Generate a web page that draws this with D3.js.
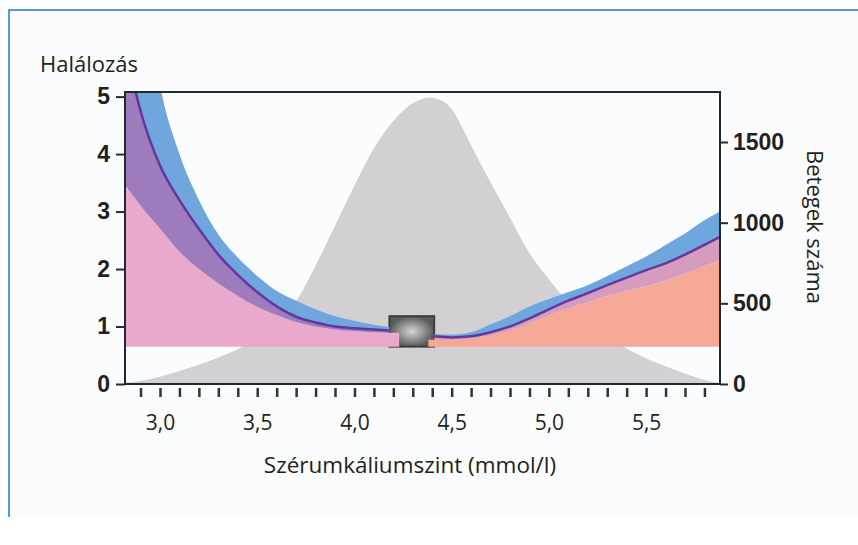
<!DOCTYPE html>
<html>
<head>
<meta charset="utf-8">
<script src="https://cdn.jsdelivr.net/npm/d3@7"></script>
<style>
  body { margin: 0; background: #fff; }
  text { font-family: "Open Sans", sans-serif; fill: #231f20; }
</style>
</head>
<body>
<script>
// szérumkálium (mmol/l) -> betegek száma
const histK = [2.82, 2.9, 3.0, 3.1, 3.2, 3.3, 3.4, 3.5, 3.6, 3.7, 3.8, 3.9, 4.0, 4.1, 4.2, 4.3, 4.38, 4.45, 4.5, 4.55, 4.6, 4.7, 4.8, 4.9, 5.0, 5.1, 5.2, 5.3, 5.4, 5.5, 5.6, 5.7, 5.8, 5.88];
const histN = [5, 20, 45, 80, 120, 165, 215, 285, 385, 515, 735, 980, 1230, 1460, 1630, 1740, 1775, 1755, 1705, 1600, 1480, 1250, 1030, 810, 650, 505, 390, 300, 220, 160, 110, 65, 25, 5];

// alacsony kálium oldal (bal)
const kLeft = [2.82, 2.9, 3.0, 3.1, 3.2, 3.3, 3.4, 3.5, 3.6, 3.7, 3.8, 3.9, 4.0, 4.1, 4.18];
const lineLeft = [5.9, 4.75, 3.8, 3.2, 2.7, 2.25, 1.9, 1.6, 1.35, 1.17, 1.07, 1.0, 0.97, 0.95, 0.93];
const upperLeft = [9, 7.5, 5.2, 4.0, 3.2, 2.6, 2.2, 1.88, 1.62, 1.45, 1.3, 1.18, 1.1, 1.03, 0.99];
const lowerLeft = [3.46, 3.1, 2.7, 2.3, 2.0, 1.75, 1.53, 1.34, 1.2, 1.08, 1.0, 0.95, 0.92, 0.9, 0.89];
const kPink = [2.82, 2.9, 3.0, 3.1, 3.2, 3.3, 3.4, 3.5, 3.6, 3.7, 3.8, 3.9, 4.0, 4.1, 4.18, 4.23];
const pinkTop = [3.46, 3.1, 2.7, 2.3, 2.0, 1.75, 1.53, 1.34, 1.2, 1.08, 1.0, 0.95, 0.92, 0.9, 0.89, 0.89];

// magas kálium oldal (jobb)
const kRight = [4.41, 4.5, 4.6, 4.7, 4.8, 4.9, 5.0, 5.1, 5.2, 5.3, 5.4, 5.5, 5.6, 5.7, 5.8, 5.88];
const lineRight = [0.83, 0.81, 0.83, 0.9, 1.0, 1.14, 1.3, 1.45, 1.58, 1.72, 1.85, 1.98, 2.1, 2.25, 2.42, 2.56];
const upperRight = [0.87, 0.86, 0.9, 1.04, 1.18, 1.35, 1.48, 1.6, 1.72, 1.88, 2.05, 2.22, 2.42, 2.62, 2.85, 3.0];
const lowerRight = [0.77, 0.77, 0.79, 0.85, 0.93, 1.06, 1.2, 1.32, 1.42, 1.53, 1.62, 1.7, 1.8, 1.92, 2.05, 2.16];
const kOrange = [4.38, 4.41, 4.5, 4.6, 4.7, 4.8, 4.9, 5.0, 5.1, 5.2, 5.3, 5.4, 5.5, 5.6, 5.7, 5.8, 5.88];
const orangeTop = [0.77, 0.77, 0.77, 0.79, 0.85, 0.93, 1.06, 1.2, 1.32, 1.42, 1.53, 1.62, 1.7, 1.8, 1.92, 2.05, 2.16];

const baseline = 0.65;
const refK = [4.18, 4.41];
const refMort = [0.65, 1.18];

const leftTicks = [0, 1, 2, 3, 4, 5];
const rightTicks = [0, 500, 1000, 1500];
const xMinor = [2.9, 3.0, 3.1, 3.2, 3.3, 3.4, 3.5, 3.6, 3.7, 3.8, 3.9, 4.0, 4.1, 4.2, 4.3, 4.4, 4.5, 4.6, 4.7, 4.8, 4.9, 5.0, 5.1, 5.2, 5.3, 5.4, 5.5, 5.6, 5.7, 5.8];
const xLabels = [3.0, 3.5, 4.0, 4.5, 5.0, 5.5];

const width = 858;
const height = 545;
const margin = { top: 92, right: 138, bottom: 161, left: 125 };

const svg = d3.select("body").append("svg")
  .attr("width", width)
  .attr("height", height);

// halvány háttér + kék szegély (bal, felső)
svg.append("rect")
  .attr("x", 9).attr("y", 10)
  .attr("width", width - 9).attr("height", 507)
  .attr("fill", "#fbfcfe");
svg.append("path")
  .attr("d", `M9,517V10H${width}`)
  .attr("fill", "none")
  .attr("stroke", "#1b7fc6")
  .attr("stroke-width", 1.5);

const x = d3.scaleLinear()
  .domain([2.82, 5.88])
  .range([margin.left, width - margin.right]);

const yL = d3.scaleLinear()
  .domain([0, 5.08])
  .range([height - margin.bottom, margin.top]);

const yR = d3.scaleLinear()
  .domain([0, 1810])
  .range([height - margin.bottom, margin.top]);

svg.append("clipPath").attr("id", "plot")
  .append("rect")
  .attr("x", x(2.82)).attr("y", yL(5.08))
  .attr("width", x(5.88) - x(2.82)).attr("height", yL(0) - yL(5.08));

const defs = svg.append("defs");
const grad = defs.append("radialGradient").attr("id", "box");
grad.append("stop").attr("offset", "0%").attr("stop-color", "#d6d6d6");
grad.append("stop").attr("offset", "100%").attr("stop-color", "#5a5a5a");

const g = svg.append("g").attr("clip-path", "url(#plot)");

// betegek eloszlása
g.append("path")
  .datum(histK.map((k, i) => [k, histN[i]]))
  .attr("fill", "#d2d0d3")
  .attr("d", d3.area()
    .curve(d3.curveCatmullRom.alpha(0.5))
    .x(d => x(d[0]))
    .y0(yR(0))
    .y1(d => yR(d[1])));

// referencia tartomány
g.append("rect")
  .attr("x", x(refK[0])).attr("y", yL(refMort[1]))
  .attr("width", x(refK[1]) - x(refK[0]))
  .attr("height", yL(refMort[0]) - yL(refMort[1]))
  .attr("fill", "url(#box)")
  .attr("stroke", "#3c3c3c")
  .attr("stroke-width", 2);

function band(ks, lo, hi, color) {
  g.append("path")
    .datum(ks.map((k, i) => [k, lo[i], hi[i]]))
    .attr("fill", color)
    .attr("d", d3.area()
      .curve(d3.curveMonotoneX)
      .x(d => x(d[0]))
      .y0(d => yL(d[1]))
      .y1(d => yL(d[2])));
}

band(kPink, kPink.map(() => baseline), pinkTop, "#e8a9cd");
band(kOrange, kOrange.map(() => baseline), orangeTop, "#f5a896");
band(kLeft, lowerLeft, lineLeft, "#9d7bbd");
band(kRight, lowerRight, lineRight, "#d69cbd");
band(kLeft, lineLeft, upperLeft, "#6ea6dd");
band(kRight, lineRight, upperRight, "#6ea6dd");

const line = d3.line()
  .curve(d3.curveMonotoneX)
  .x(d => x(d[0]))
  .y(d => yL(d[1]));

[[kLeft, lineLeft], [kRight, lineRight]].forEach(([ks, vs]) => {
  g.append("path")
    .datum(ks.map((k, i) => [k, vs[i]]))
    .attr("fill", "none")
    .attr("stroke", "#62389c")
    .attr("stroke-width", 2.5)
    .attr("d", line);
});

// keret
svg.append("rect")
  .attr("x", x(2.82)).attr("y", yL(5.08))
  .attr("width", x(5.88) - x(2.82)).attr("height", yL(0) - yL(5.08))
  .attr("fill", "none")
  .attr("stroke", "#1f2a2d")
  .attr("stroke-width", 2);

// bal tengely
const axL = svg.append("g")
  .attr("transform", `translate(${x(2.82)},0)`)
  .call(d3.axisLeft(yL).tickValues(leftTicks).tickSize(9).tickPadding(6).tickFormat(d3.format("d")));
axL.select(".domain").remove();
axL.selectAll("line").attr("stroke", "#2a2a2a").attr("stroke-width", 2);
axL.selectAll("text")
  .style("font-family", "'Liberation Sans', Arial, sans-serif")
  .style("font-weight", "bold")
  .style("font-size", "23px")
  .attr("fill", "#333");

// jobb tengely
const axR = svg.append("g")
  .attr("transform", `translate(${x(5.88)},0)`)
  .call(d3.axisRight(yR).tickValues(rightTicks).tickSize(8).tickPadding(5).tickFormat(d3.format("d")));
axR.select(".domain").remove();
axR.selectAll("line").attr("stroke", "#2a2a2a").attr("stroke-width", 2);
axR.selectAll("text")
  .style("font-family", "'Liberation Sans', Arial, sans-serif")
  .style("font-weight", "bold")
  .style("font-size", "23px")
  .attr("fill", "#333");

// x tengely apró osztásai
const axMinor = svg.append("g")
  .attr("transform", `translate(0,${yL(0) + 4})`)
  .call(d3.axisBottom(x).tickValues(xMinor).tickSize(9).tickFormat(""));
axMinor.select(".domain").remove();
axMinor.selectAll("line").attr("stroke", "#333").attr("stroke-width", 2.5);

const axX = svg.append("g")
  .attr("transform", `translate(0,${yL(0)})`)
  .call(d3.axisBottom(x).tickValues(xLabels).tickSize(0).tickPadding(31)
    .tickFormat(d => d3.format(".1f")(d).replace(".", ",")));
axX.select(".domain").remove();
axX.selectAll("text")
  .style("font-family", "'Open Sans', sans-serif")
  .style("font-size", "21px")
  .attr("fill", "#231f20");

// feliratok
svg.append("text")
  .attr("x", 40).attr("y", 72)
  .style("font-size", "22px")
  .text("Halálozás");

svg.append("text")
  .attr("x", 410).attr("y", 473)
  .attr("text-anchor", "middle")
  .style("font-size", "22.5px")
  .text("Szérumkáliumszint (mmol/l)");

svg.append("text")
  .attr("transform", "translate(807,227) rotate(90)")
  .attr("text-anchor", "middle")
  .style("font-size", "22px")
  .text("Betegek száma");
</script>
</body>
</html>
